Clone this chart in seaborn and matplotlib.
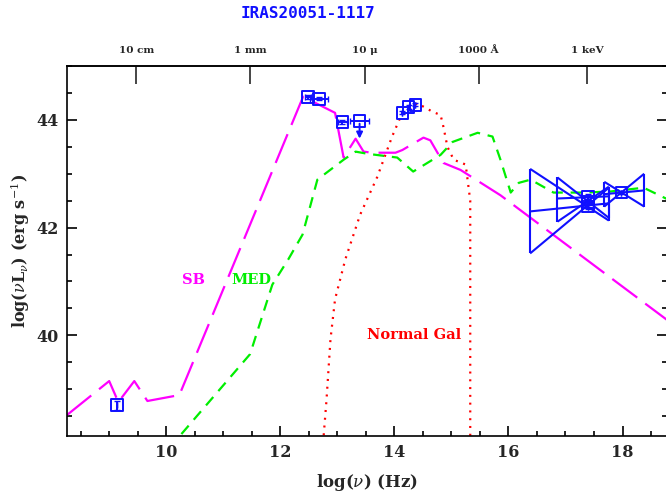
import numpy as np
import pandas as pd
import matplotlib
matplotlib.use("Agg")
import matplotlib.pyplot as plt
import seaborn as sns
from matplotlib.ticker import MultipleLocator

sns.set_theme(style="white")
plt.rcParams['font.family'] = ['DejaVu Serif', 'DejaVu Sans']
plt.rcParams['mathtext.fontset'] = 'dejavuserif'

# ---------------- data ----------------
sb_x = [8.26, 9.0, 9.16, 9.44, 9.67, 10.23, 12.40, 12.96, 13.11, 13.32, 13.46, 13.61,
        14.02, 14.14, 14.51, 14.63, 14.86, 15.16, 15.86, 17.79, 18.8]
sb_y = [38.52, 39.15, 38.76, 39.15, 38.78, 38.89, 44.43, 44.13, 43.30, 43.65, 43.41, 43.39,
        43.39, 43.44, 43.67, 43.62, 43.20, 43.07, 42.60, 41.07, 40.27]

med_x = [10.05, 11.47, 11.86, 12.14, 12.39, 12.65, 13.11, 13.32, 13.53, 14.05, 14.33, 14.81,
         15.02, 15.46, 15.72, 15.86, 16.04, 16.18, 16.39, 16.79, 17.32, 17.79, 18.37, 18.8]
med_y = [37.9, 39.65, 40.94, 41.41, 41.87, 42.89, 43.26, 43.41, 43.37, 43.30, 43.04, 43.35,
         43.59, 43.76, 43.69, 43.26, 42.65, 42.83, 42.89, 42.65, 42.65, 42.67, 42.74, 42.52]

gal_x = [12.75, 12.81, 12.88, 12.96, 13.14, 13.40, 13.70, 13.96, 14.11, 14.40, 14.67, 14.81,
         14.86, 14.93, 15.04, 15.25, 15.33, 15.33]
gal_y = [38.0, 38.8, 39.93, 40.67, 41.41, 42.24, 42.94, 43.69, 44.06, 44.31, 44.15, 44.09,
         43.87, 43.50, 43.26, 43.17, 42.5, 38.0]

pt_x = [9.14, 12.49, 12.68, 13.09, 14.14, 14.25, 14.37, 17.39, 17.39, 17.39, 17.98]
pt_y = [38.70, 44.43, 44.39, 43.96, 44.13, 44.24, 44.28, 42.57, 42.48, 42.39, 42.65]
pt_xerr = [0.0, 0.05, 0.16, 0.08, 0.0, 0.0, 0.0, 0.0, 0.0, 0.0, 0.0]
pt_yerr = [0.08, 0.04, 0.03, 0.04, 0.03, 0.03, 0.03, 0.05, 0.05, 0.05, 0.03]

ul_x = [13.39]
ul_y = [43.98]
ul_xerr = [0.16]

# X-ray bowties: low/high energy edge, top/bottom at each edge, best-fit line ends
bt_xlo = [16.38, 16.86, 17.68]
bt_xhi = [17.76, 17.76, 18.38]
bt_lo_top = [43.09, 42.93, 42.85]
bt_lo_bot = [41.52, 42.11, 42.39]
bt_hi_top = [42.74, 42.76, 43.00]
bt_hi_bot = [42.13, 42.18, 42.39]
bt_lo_mid = [42.30, 42.54, 42.62]
bt_hi_mid = [42.45, 42.58, 42.69]

top_ticks = [9.477, 11.477, 13.477, 15.477, 17.383]
top_labels = ["10 cm", "1 mm", "10 \u03bc", "1000 \u00c5", "1 keV"]

# ---------------- figure ----------------
fig = plt.figure(figsize=(6.66, 5.01), dpi=100)
ax = fig.add_axes([67/666, 65/501, 600/666, 370/501])

blue = "#1010ff"
sns.lineplot(x=sb_x, y=sb_y, ax=ax, sort=False, color="#ff00ff", lw=1.6,
             estimator=None)
ax.lines[-1].set_dashes([14, 4.5])
sns.lineplot(x=med_x, y=med_y, ax=ax, sort=False, color="#00ee00", lw=1.6,
             estimator=None)
ax.lines[-1].set_dashes([5, 3.5])
sns.lineplot(x=gal_x, y=gal_y, ax=ax, sort=False, color="#ff0000", lw=1.6,
             estimator=None)
ax.lines[-1].set_dashes([0.9, 2.6])

# bowties
for i in range(len(bt_xlo)):
    xl, xh = bt_xlo[i], bt_xhi[i]
    seg = [([xl, xl], [bt_lo_top[i], bt_lo_bot[i]]),
           ([xh, xh], [bt_hi_top[i], bt_hi_bot[i]]),
           ([xl, xh], [bt_lo_top[i], bt_hi_bot[i]]),
           ([xl, xh], [bt_lo_bot[i], bt_hi_top[i]]),
           ([xl, xh], [bt_lo_mid[i], bt_hi_mid[i]])]
    for sx, sy in seg:
        ax.plot(sx, sy, color=blue, lw=1.5, solid_capstyle='butt')

# data points
sns.scatterplot(x=pt_x, y=pt_y, ax=ax, marker='s', s=70, facecolors='none',
                edgecolor=blue, linewidth=1.4, zorder=5)
ax.errorbar(pt_x, pt_y, xerr=pt_xerr, yerr=pt_yerr, fmt='none', ecolor=blue,
            elinewidth=1.4, capsize=2, zorder=5)
sns.scatterplot(x=ul_x, y=ul_y, ax=ax, marker='s', s=70, facecolors='none',
                edgecolor=blue, linewidth=1.4, zorder=5)
ax.errorbar(ul_x, ul_y, xerr=ul_xerr, fmt='none', ecolor=blue, elinewidth=1.4,
            capsize=2, zorder=5)
for x0, y0 in zip(ul_x, ul_y):
    ax.annotate("", xy=(x0, y0 - 0.38), xytext=(x0, y0),
                arrowprops=dict(arrowstyle="-|>", color=blue, lw=1.4,
                                mutation_scale=9))

ax.set_xlim(8.26, 18.78)
ax.set_ylim(38.13, 45.0)

ax.xaxis.set_major_locator(MultipleLocator(2))
ax.xaxis.set_minor_locator(MultipleLocator(0.5))
ax.yaxis.set_major_locator(MultipleLocator(2))
ax.yaxis.set_minor_locator(MultipleLocator(0.5))
ax.tick_params(which='both', direction='in', top=False, bottom=True, left=True,
               right=True, color='black', width=1.2)
ax.tick_params(which='major', length=7.5, labelsize=11.5, pad=6)
ax.tick_params(which='minor', length=3.8)
for lab in ax.get_xticklabels() + ax.get_yticklabels():
    lab.set_fontweight('bold')
for sp in ax.spines.values():
    sp.set_color('black')
    sp.set_linewidth(1.2)

sec = ax.secondary_xaxis('top')
sec.set_xticks(top_ticks)
sec.set_xticklabels(top_labels, fontsize=7.5, fontweight='bold')
sec.tick_params(direction='in', length=13, width=1.2, pad=8)
sec.xaxis.set_minor_locator(matplotlib.ticker.NullLocator())

ax.set_xlabel(r"log($\nu$) (Hz)", fontsize=12, fontweight='bold', labelpad=8)
ax.set_ylabel(r"log($\nu$L$_\nu$) (erg s$^{-1}$)", fontsize=11.5, fontweight='bold',
              labelpad=3)

ax.text(10.47, 41.02, "SB", color="#ff00ff", fontsize=10.5, fontweight='bold',
        ha='center', va='center')
ax.text(11.49, 41.02, "MED", color="#00ee00", fontsize=10.5, fontweight='bold',
        ha='center', va='center')
ax.text(14.35, 40.0, "Normal Gal", color="#ff0000", fontsize=10.5, fontweight='bold',
        ha='center', va='center')

fig.text(308/666, 1 - 14/501, "IRAS20051-1117", color=blue, fontsize=11.5,
         fontweight='bold', ha='center', va='center', family='DejaVu Sans Mono')

fig.savefig("out.png", dpi=100)
